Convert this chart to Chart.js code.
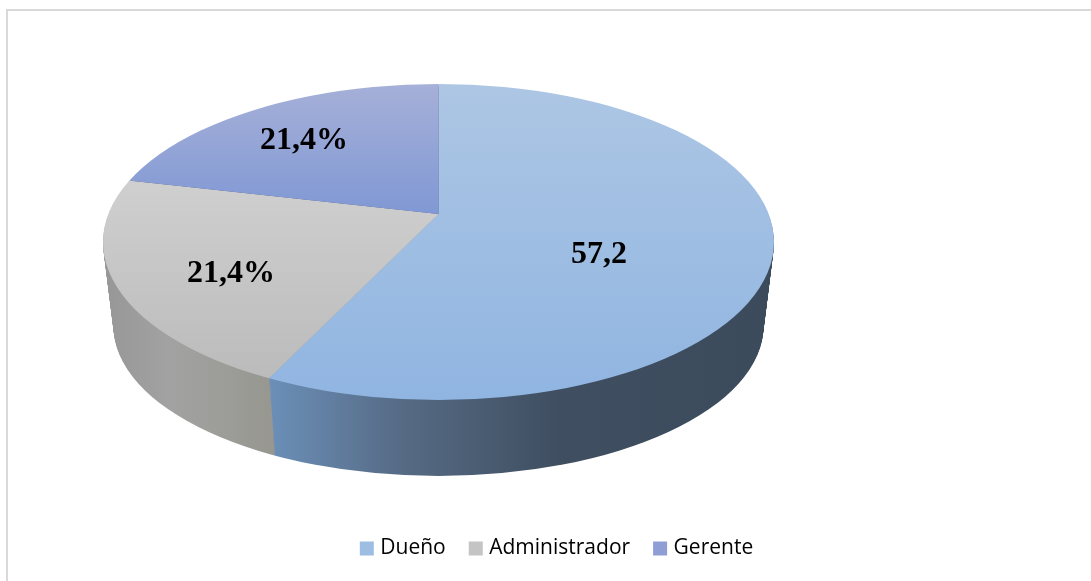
<!DOCTYPE html>
<html>
<head>
<meta charset="utf-8">
<style>
html,body{margin:0;padding:0;background:#fff;overflow:hidden}
#frame{position:absolute;left:6px;top:9px;right:0;bottom:0;border-left:2px solid #d9d9d9;border-top:2px solid #d9d9d9}
canvas{position:absolute;left:0;top:0}
</style>
<script src="https://cdn.jsdelivr.net/npm/chart.js@4/dist/chart.umd.min.js"></script>
</head>
<body>
<div id="frame"></div>
<canvas id="c" width="1091" height="581"></canvas>
<script>
const categories = ['Dueño', 'Administrador', 'Gerente'];
const seriesValues = [57.2, 21.4, 21.4];
const valueLabels = ['57,2', '21,4%', '21,4%'];
const legendColors = ['#9dbde3', '#c4c4c4', '#8f9fd5'];

// Appearance of the 3D view (not data)
const topEllipse = {cx: 438.5, cy: 242, rx: 335.5, ry: 158};
const bottomEllipse = {cx: 438.5, cy: 326, rx: 325, ry: 150};
const apexLift = 28;
const steps = 76;
const topStops = [
  {y0: 84, y1: 400, c: ['#adc6e4', '#90b5e1']},
  {y0: 183, y1: 380, c: ['#cfcfcf', '#bbbbbb']},
  {y0: 84, y1: 214, c: ['#a6b0d8', '#8098d4']}
];
const wallStops = [
  [[270, '#6b8fb8'], [400, '#566b85'], [560, '#3f4e60'], [775, '#3b4b5c']],
  [[105, '#979797'], [170, '#a2a2a2'], [275, '#979790']],
  [[105, '#555f80'], [775, '#555f80']]
];
const labelPoints = [[599, 255], [231, 274], [304, 141]];

function lerp(a, b, t) { return a + (b - a) * t; }

const pie3d = {
  id: 'pie3d',
  beforeDatasetsDraw(chart) {
    const ctx = chart.ctx;
    const arcs = chart.getDatasetMeta(0).data;

    function drawLayer(t, isTop) {
      const e = {
        cx: lerp(topEllipse.cx, bottomEllipse.cx, t),
        cy: lerp(topEllipse.cy, bottomEllipse.cy, t),
        rx: lerp(topEllipse.rx, bottomEllipse.rx, t),
        ry: lerp(topEllipse.ry, bottomEllipse.ry, t)
      };
      const apexY = e.cy - apexLift * e.ry / topEllipse.ry;
      arcs.forEach((arc, i) => {
        const R = arc.outerRadius;
        const sx = e.rx * 1.3 / R, sy = e.ry * 1.3 / R;
        ctx.save();
        ctx.beginPath();
        ctx.ellipse(e.cx, e.cy, e.rx, e.ry, 0, 0, Math.PI * 2);
        ctx.clip();
        ctx.translate(e.cx, apexY);
        ctx.scale(sx, sy);
        ctx.translate(-arc.x, -arc.y);
        let grad;
        if (isTop) {
          const s = topStops[i];
          grad = ctx.createLinearGradient(0, arc.y + (s.y0 - apexY) / sy, 0, arc.y + (s.y1 - apexY) / sy);
          grad.addColorStop(0, s.c[0]);
          grad.addColorStop(1, s.c[1]);
        } else {
          const s = wallStops[i];
          const x0 = s[0][0], x1 = s[s.length - 1][0];
          grad = ctx.createLinearGradient(arc.x + (x0 - e.cx) / sx, 0, arc.x + (x1 - e.cx) / sx, 0);
          s.forEach(p => grad.addColorStop((p[0] - x0) / (x1 - x0), p[1]));
        }
        const original = arc.options;
        const o = Object.create(original);
        o.backgroundColor = grad;
        o.borderWidth = 0;
        arc.options = o;
        arc.draw(ctx);
        arc.options = original;
        ctx.restore();
      });
    }

    for (let k = steps; k >= 1; k--) drawLayer(k / steps, false);
    drawLayer(0, true);

    ctx.save();
    ctx.font = 'bold 32px "Liberation Serif"';
    ctx.fillStyle = '#000';
    ctx.textAlign = 'center';
    ctx.textBaseline = 'middle';
    valueLabels.forEach((t, i) => ctx.fillText(t, labelPoints[i][0], labelPoints[i][1]));
    ctx.restore();
    return false;
  }
};

new Chart(document.getElementById('c'), {
  type: 'pie',
  data: {
    labels: categories,
    datasets: [{data: seriesValues, backgroundColor: legendColors, borderWidth: 0}]
  },
  options: {
    responsive: false,
    animation: false,
    events: [],
    layout: {padding: {left: 26, bottom: 12}},
    plugins: {
      tooltip: {enabled: false},
      title: {display: false},
      legend: {
        position: 'bottom',
        labels: {
          boxWidth: 6,
          boxHeight: 6,
          padding: 27,
          color: '#8c8c8c',
          font: {family: '"Open Sans"', size: 21},
          generateLabels: () => categories.map((c, i) => ({
            text: c,
            fillStyle: legendColors[i],
            strokeStyle: legendColors[i],
            lineWidth: 8,
            hidden: false,
            index: i
          }))
        }
      }
    }
  },
  plugins: [pie3d]
});
</script>
</body>
</html>
